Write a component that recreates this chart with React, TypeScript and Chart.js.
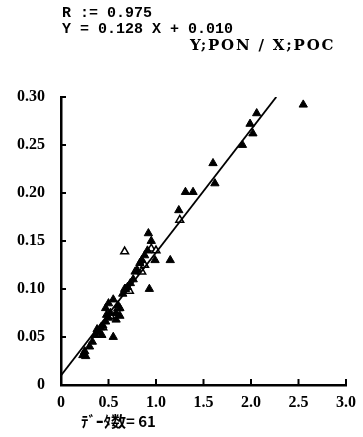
import React, { useEffect, useRef } from "react";
import { Chart, registerables } from "chart.js";

Chart.register(...registerables);

const titleLines = ["R := 0.975", "Y = 0.128 X + 0.010"];
const axisNote = "Y;PON / X;POC";
const countNote = "ﾃﾞｰﾀ数= 61";

const slope = 0.128;
const intercept = 0.01;
const lineX = [0, 2.266];

const xTicks = [0, 0.5, 1.0, 1.5, 2.0, 2.5, 3.0];
const yTicks = [0, 0.05, 0.1, 0.15, 0.2, 0.25, 0.3];

const filledX = [
  0.23, 0.26, 0.25, 0.3, 0.33, 0.36, 0.4, 0.42, 0.44, 0.47, 0.5, 0.48, 0.52, 0.55, 0.43,
  0.47, 0.5, 0.55, 0.6, 0.62, 0.58, 0.62, 0.65, 0.68, 0.7, 0.73, 0.76, 0.78, 0.8, 0.83,
  0.85, 0.88, 0.91, 0.95, 0.92, 0.99, 1.15, 0.93, 1.24, 1.31, 1.39, 1.6, 1.62, 1.91, 2.02,
  1.99, 2.06, 2.55, 0.67, 0.58, 0.38,
];
const filledY = [
  0.031, 0.03, 0.035, 0.04, 0.045, 0.052, 0.055, 0.06, 0.062, 0.066, 0.07, 0.073, 0.075, 0.05, 0.052,
  0.08, 0.085, 0.089, 0.083, 0.08, 0.075, 0.072, 0.095, 0.1, 0.102, 0.106, 0.11, 0.118, 0.12, 0.127,
  0.13, 0.135, 0.14, 0.15, 0.158, 0.13, 0.13, 0.1, 0.182, 0.201, 0.201, 0.231, 0.21, 0.25, 0.262,
  0.272, 0.283, 0.292, 0.1, 0.068, 0.058,
];

const openX = [0.67, 1.25, 0.95, 0.85, 0.6, 0.72, 0.52, 0.44, 0.88, 1.0];
const openY = [0.139, 0.172, 0.142, 0.118, 0.08, 0.098, 0.072, 0.06, 0.125, 0.14];

const textPlugin = {
  id: "texts",
  afterDraw(chart: any) {
    const ctx = chart.ctx;
    const x = chart.scales.x;
    const y = chart.scales.y;
    ctx.save();
    ctx.fillStyle = "#000";
    ctx.strokeStyle = "#000";
    ctx.lineWidth = 2;
    xTicks.forEach((v) => {
      if (v === 0) return;
      const px = x.getPixelForValue(v);
      ctx.beginPath();
      ctx.moveTo(px, y.bottom);
      ctx.lineTo(px, y.bottom - 6);
      ctx.stroke();
    });
    yTicks.forEach((v) => {
      if (v === 0) return;
      const py = y.getPixelForValue(v);
      ctx.beginPath();
      ctx.moveTo(x.left, py);
      ctx.lineTo(x.left + 5, py);
      ctx.stroke();
    });
    ctx.textBaseline = "middle";
    ctx.textAlign = "left";
    ctx.font = "bold 15px 'Liberation Mono'";
    ctx.fillText(titleLines[0], 62, 13);
    ctx.fillText(titleLines[1], 62, 29);
    ctx.font = "bold 15px 'DejaVu Serif'";
    (ctx as any).letterSpacing = "1.8px";
    ctx.fillText(axisNote, 190, 46);
    (ctx as any).letterSpacing = "0px";
    ctx.font = "bold 15px 'Noto Sans CJK JP'";
    ctx.fillText(countNote, 81, 421);
    ctx.restore();
  },
};

export default function App() {
  const ref = useRef<HTMLCanvasElement>(null);
  useEffect(() => {
    document.body.style.margin = "0";
    const chart = new Chart(ref.current!, {
      type: "scatter",
      data: {
        datasets: [
          {
            type: "line",
            data: lineX.map((v) => ({ x: v, y: slope * v + intercept })),
            borderColor: "#000",
            borderWidth: 1.8,
            pointRadius: 0,
            fill: false,
          } as any,
          {
            data: filledX.map((v, i) => ({ x: v, y: filledY[i] })),
            pointStyle: "triangle",
            pointRadius: 4.8,
            backgroundColor: "#000",
            borderColor: "#000",
            borderWidth: 1,
          },
          {
            data: openX.map((v, i) => ({ x: v, y: openY[i] })),
            pointStyle: "triangle",
            pointRadius: 4.5,
            backgroundColor: "#fff",
            borderColor: "#000",
            borderWidth: 1.5,
          },
        ],
      },
      options: {
        animation: false,
        responsive: false,
        maintainAspectRatio: false,
        layout: { padding: { top: 97, right: 17, left: 0, bottom: 0 } },
        plugins: { legend: { display: false }, tooltip: { enabled: false } },
        scales: {
          x: {
            type: "linear",
            min: 0,
            max: 3,
            afterFit: (s: any) => {
              s.height = 52;
            },
            afterBuildTicks: (s: any) => {
              s.ticks = xTicks.map((v) => ({ value: v }));
            },
            border: { color: "#000", width: 2.5 },
            grid: { display: false },
            ticks: {
              color: "#000",
              padding: 0,
              maxRotation: 0,
              font: { family: "'Liberation Serif'", size: 16, weight: "bold" },
              callback: (v: any) => (v === 0 ? "0" : Number(v).toFixed(1)),
            },
          },
          y: {
            type: "linear",
            min: 0,
            max: 0.3,
            afterFit: (s: any) => {
              s.width = 61;
            },
            afterBuildTicks: (s: any) => {
              s.ticks = yTicks.map((v) => ({ value: v }));
            },
            border: { color: "#000", width: 2.5 },
            grid: { display: false },
            ticks: {
              color: "#000",
              padding: 8,
              font: { family: "'Liberation Serif'", size: 16, weight: "bold" },
              callback: (v: any) => (v === 0 ? "0" : Number(v).toFixed(2)),
            },
          },
        },
      },
      plugins: [textPlugin],
    });
    return () => chart.destroy();
  }, []);
  return (
    <div style={{ position: "absolute", left: 0, top: 0, width: 363, height: 437, background: "#fff" }}>
      <canvas ref={ref} width={363} height={437} style={{ width: 363, height: 437 }} />
    </div>
  );
}
